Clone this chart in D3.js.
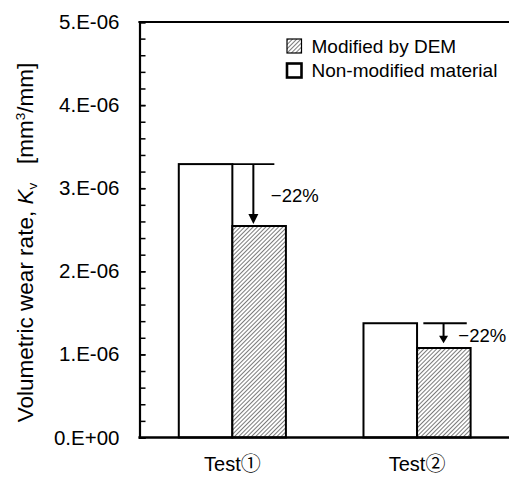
<!DOCTYPE html>
<html>
<head>
<meta charset="utf-8">
<script src="https://cdn.jsdelivr.net/npm/d3@7"></script>
<style>
  html, body { margin: 0; padding: 0; background: #fff; }
  svg { display: block; font-family: "Liberation Sans", Arial, "Noto Sans CJK JP", sans-serif; }
</style>
</head>
<body>
<svg id="chart" width="509" height="478"></svg>
<script>
// ---- data ----
const categories = ["Test\u2460", "Test\u2461"];
const series = ["Non-modified material", "Modified by DEM"];
const nonModified = [3.29e-6, 1.375e-6];
const modifiedDEM = [2.545e-6, 1.077e-6];
const reductionLabels = ["\u221222%", "\u221222%"];
const yTickValues = [0, 1e-6, 2e-6, 3e-6, 4e-6, 5e-6];
const yTickLabels = ["0.E+00", "1.E-06", "2.E-06", "3.E-06", "4.E-06", "5.E-06"];
const yMinorStep = 2e-7;
const yMax = 5e-6;

// ---- layout ----
const W = 509, H = 478;
const mLeft = 140, mTop = 22, mBottom = 437.5, mRight = 509.4;

const svg = d3.select("#chart");

// hatch pattern
const defs = svg.append("defs");
const hp = 3.0;
const pat = defs.append("pattern")
  .attr("id", "hatch").attr("patternUnits", "userSpaceOnUse")
  .attr("width", hp).attr("height", hp)
  .attr("patternTransform", "rotate(45)");
pat.append("rect").attr("width", hp).attr("height", hp).attr("fill", "#fff");
pat.append("line").attr("x1", 0).attr("y1", 0).attr("x2", 0).attr("y2", hp)
  .attr("stroke", "#333").attr("stroke-width", 1.3);

const x = d3.scaleBand().domain(categories).range([mLeft, mRight])
  .paddingInner(0.42).paddingOuter(0.21);
const xs = d3.scaleBand().domain(series).range([0, x.bandwidth()]);
const y = d3.scaleLinear().domain([0, yMax]).range([mBottom, mTop]);

// bars
const rows = categories.map((c, i) => ({ c, i, non: nonModified[i], mod: modifiedDEM[i] }));
const g = svg.append("g");
rows.forEach(r => {
  g.append("rect")
    .attr("x", x(r.c) + xs(series[0])).attr("y", y(r.non))
    .attr("width", xs.bandwidth()).attr("height", y(0) - y(r.non))
    .attr("fill", "#fff").attr("stroke", "#000").attr("stroke-width", 2);
  g.append("rect")
    .attr("x", x(r.c) + xs(series[1])).attr("y", y(r.mod))
    .attr("width", xs.bandwidth()).attr("height", y(0) - y(r.mod))
    .attr("fill", "url(#hatch)").attr("stroke", "#000").attr("stroke-width", 2);
});

// annotations
const annot = [
  { lineStart: 0, lineEnd: 42, arrowX: 21, labelX: 38.5, gap: 2, head: 10, headW: 10 },
  { lineStart: 6.3, lineEnd: 49.7, arrowX: 26.5, labelX: 41.3, gap: 4.7, head: 7.5, headW: 9 }
];
rows.forEach((r, i) => {
  const a = annot[i];
  const bx = x(r.c) + xs(series[1]);
  const yTop = y(r.non), yLow = y(r.mod);
  g.append("line")
    .attr("x1", bx + a.lineStart).attr("x2", bx + a.lineEnd)
    .attr("y1", yTop).attr("y2", yTop)
    .attr("stroke", "#000").attr("stroke-width", 1.8);
  const ax = bx + a.arrowX, tip = yLow - a.gap;
  g.append("line")
    .attr("x1", ax).attr("x2", ax).attr("y1", yTop).attr("y2", tip - a.head + 1)
    .attr("stroke", "#000").attr("stroke-width", 2);
  g.append("path")
    .attr("d", `M${ax - a.headW / 2},${tip - a.head} L${ax + a.headW / 2},${tip - a.head} L${ax},${tip} Z`)
    .attr("fill", "#000");
  g.append("text")
    .attr("x", bx + a.labelX).attr("y", (yTop + yLow) / 2)
    .attr("dy", "0.36em").attr("font-size", 18.5).attr("fill", "#000")
    .text(reductionLabels[i]);
});

// y axis: minor ticks
const minorVals = d3.range(0, yMax + 1e-12, yMinorStep);
svg.append("g").attr("transform", `translate(${mLeft - 0.5},0)`)
  .call(d3.axisLeft(y).tickValues(minorVals).tickSize(-6).tickFormat(""))
  .call(s => s.select(".domain").remove())
  .call(s => s.selectAll(".tick line").attr("stroke", "#000").attr("stroke-width", 1.5));

// y axis: major
const yAxis = svg.append("g").attr("transform", `translate(${mLeft - 0.5},0)`)
  .call(d3.axisLeft(y).tickValues(yTickValues).tickSize(-6).tickPadding(20)
    .tickFormat((d, i) => yTickLabels[i]));
yAxis.select(".domain").attr("stroke", "#000").attr("stroke-width", 2.2);
yAxis.selectAll(".tick line").attr("stroke", "#000").attr("stroke-width", 1.5);
yAxis.selectAll(".tick text").attr("font-size", 20.5).attr("fill", "#000")
  .attr("font-family", "'Liberation Sans', Arial, sans-serif");

// top border and x axis line
svg.append("line").attr("x1", mLeft - 1.6).attr("x2", W).attr("y1", y(yMax)).attr("y2", y(yMax))
  .attr("stroke", "#000").attr("stroke-width", 2.2);
const xAxis = svg.append("g").attr("transform", `translate(0,${mBottom})`)
  .call(d3.axisBottom(x).tickSize(0).tickPadding(19));
xAxis.select(".domain").attr("d", `M${mLeft - 1.6},0H${W}`).attr("stroke", "#000").attr("stroke-width", 2.4);
xAxis.selectAll(".tick text").attr("font-size", 20).attr("fill", "#000")
  .attr("font-family", "'Liberation Sans', Arial, 'Noto Sans CJK JP', sans-serif");

// y title
const yt = svg.append("text")
  .attr("transform", `translate(32.5,242.5) rotate(-90)`)
  .attr("text-anchor", "middle").attr("font-size", 22.5).attr("fill", "#000");
yt.append("tspan").text("Volumetric wear rate, ");
yt.append("tspan").attr("font-style", "italic").text("K");
yt.append("tspan").attr("font-size", 13.5).attr("dy", 4).text("v");
yt.append("tspan").attr("dy", -4).text("\u00a0\u00a0\u00a0[mm");
yt.append("tspan").attr("font-size", 13.5).attr("dy", -8).text("3");
yt.append("tspan").attr("dy", 8).text("/mm]");

// legend
const legend = svg.append("g");
const legendItems = [
  { label: series[1], fill: "url(#hatch)", sw: 1.2 },
  { label: series[0], fill: "#fff", sw: 2.6 }
];
legendItems.forEach((it, i) => {
  const cy = 46 + i * 24.5;
  legend.append("rect").attr("x", 287).attr("y", cy - 7).attr("width", 14.5).attr("height", 14)
    .attr("fill", it.fill).attr("stroke", "#000").attr("stroke-width", it.sw);
  legend.append("text").attr("x", 311.5).attr("y", cy).attr("dy", "0.36em")
    .attr("font-size", 19).attr("fill", "#000").text(it.label);
});
</script>
</body>
</html>
